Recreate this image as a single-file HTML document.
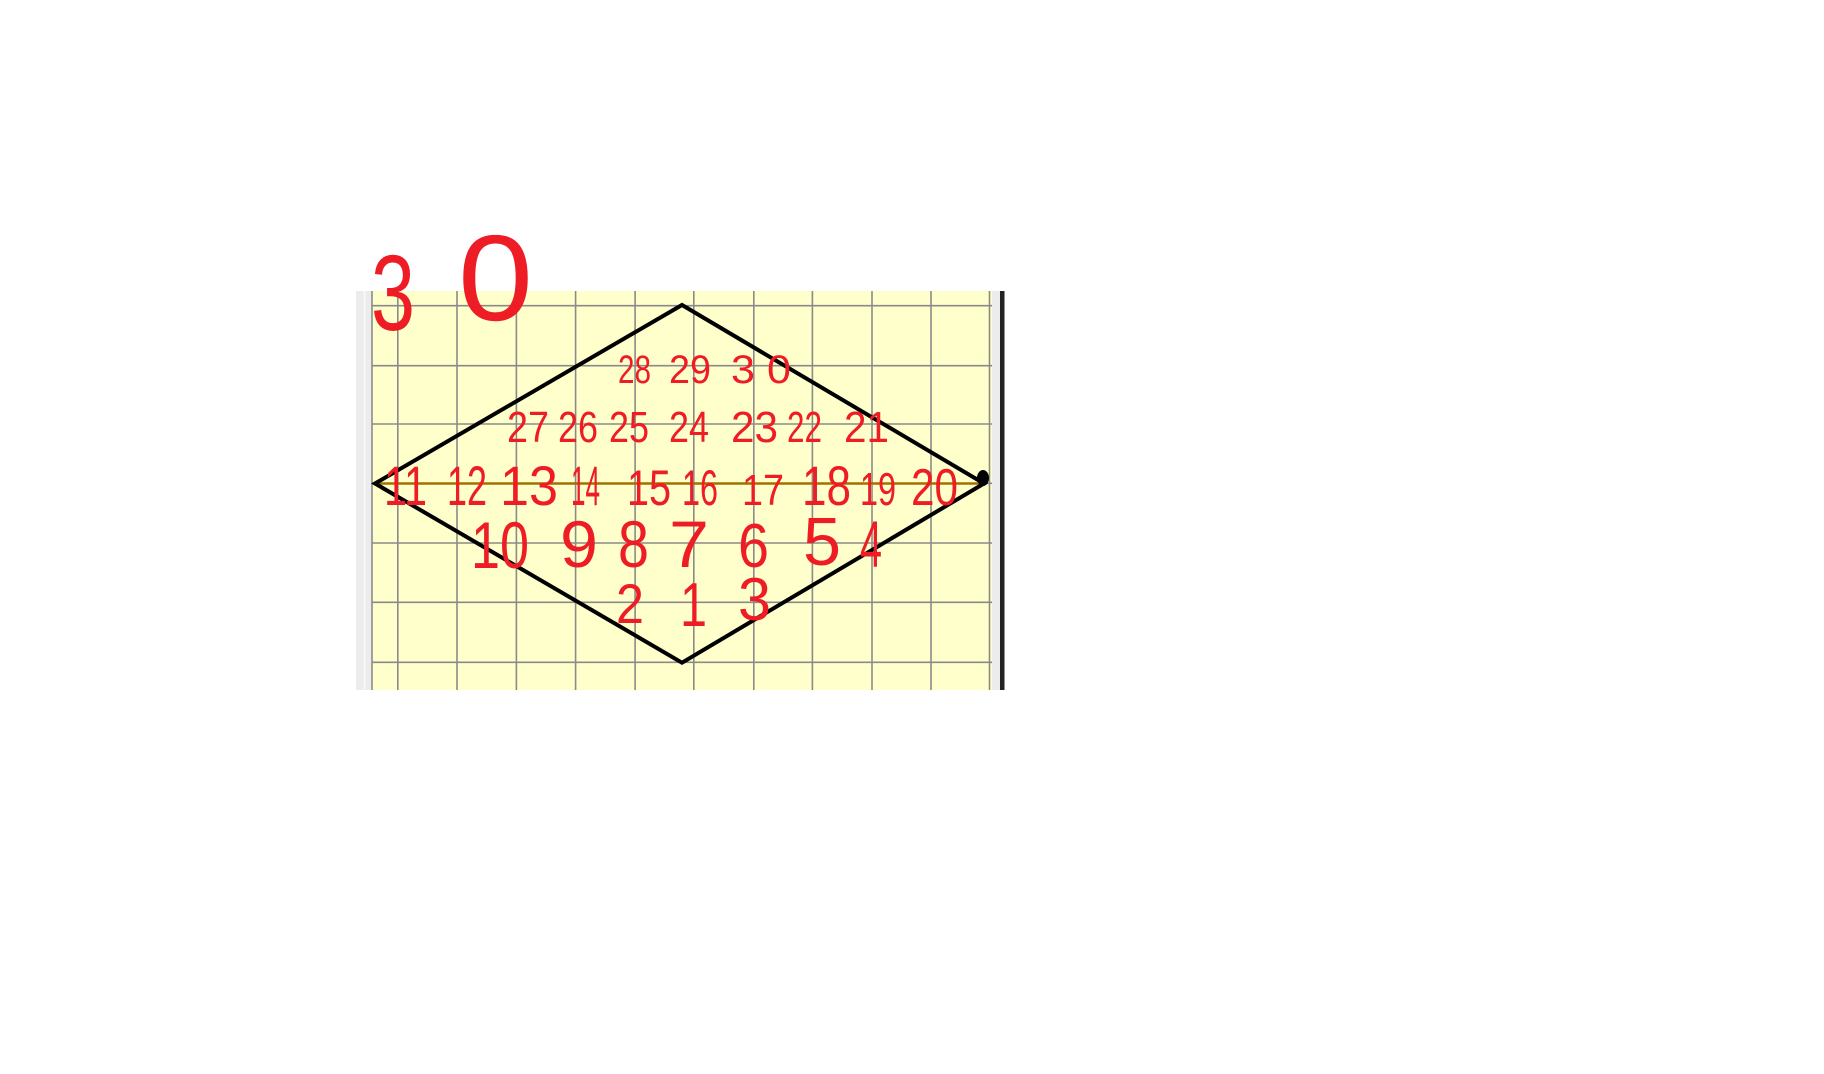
<!DOCTYPE html>
<html><head><meta charset="utf-8"><style>
html,body{margin:0;padding:0;background:#fff;width:1824px;height:1074px;overflow:hidden}
svg{display:block}
text{font-family:"Liberation Sans",sans-serif;fill:#ee1c25}
</style></head><body>
<svg width="1824" height="1074" viewBox="0 0 1824 1074">
<rect x="356" y="291" width="16" height="399" fill="#ececec"/>
<line x1="364.5" y1="291" x2="364.5" y2="690" stroke="#fafafa" stroke-width="1.5"/>
<rect x="372" y="291" width="620" height="399" fill="#ffffcc"/>
<g id="grid" stroke="#8a8a8a" stroke-width="1.6"></g>
<rect x="992" y="291" width="8" height="399" fill="#ececec"/>
<rect x="1000" y="291" width="4.5" height="399" fill="#222"/>
<line x1="375" y1="483.5" x2="984" y2="483.5" stroke="#a07000" stroke-width="2.5"/>
<polygon points="375,483.5 682,305 984,483.5 682,662.7" fill="none" stroke="#000" stroke-width="4" stroke-linejoin="miter"/>
<ellipse cx="983" cy="478" rx="6" ry="8" fill="#000"/>
<g id="labels">
<text x="371" y="330" font-size="108" textLength="44" lengthAdjust="spacingAndGlyphs">3</text>
<text x="458" y="320" font-size="122" textLength="75" lengthAdjust="spacingAndGlyphs">0</text>

<text x="618" y="383" font-size="40" textLength="33" lengthAdjust="spacingAndGlyphs">28</text>
<text x="669" y="383" font-size="40" textLength="42" lengthAdjust="spacingAndGlyphs">29</text>
<text x="731" y="383" font-size="40" textLength="60" lengthAdjust="spacingAndGlyphs">3 0</text>

<text x="507" y="442" font-size="44" textLength="42" lengthAdjust="spacingAndGlyphs">27</text>
<text x="558" y="442" font-size="44" textLength="40" lengthAdjust="spacingAndGlyphs">26</text>
<text x="609" y="442" font-size="44" textLength="40" lengthAdjust="spacingAndGlyphs">25</text>
<text x="669" y="442" font-size="44" textLength="40" lengthAdjust="spacingAndGlyphs">24</text>
<text x="731" y="442" font-size="44" textLength="47" lengthAdjust="spacingAndGlyphs">23</text>
<text x="787" y="442" font-size="44" textLength="35" lengthAdjust="spacingAndGlyphs">22</text>
<text x="844" y="442" font-size="44" textLength="45" lengthAdjust="spacingAndGlyphs">21</text>

<text x="384" y="505" font-size="56" textLength="43" lengthAdjust="spacingAndGlyphs">11</text>
<text x="447" y="505" font-size="56" textLength="40" lengthAdjust="spacingAndGlyphs">12</text>
<text x="500" y="505" font-size="56" textLength="58" lengthAdjust="spacingAndGlyphs">13</text>
<text x="571" y="505" font-size="56" textLength="29" lengthAdjust="spacingAndGlyphs">14</text>
<text x="627" y="505" font-size="50" textLength="44" lengthAdjust="spacingAndGlyphs">15</text>
<text x="682" y="505" font-size="50" textLength="36" lengthAdjust="spacingAndGlyphs">16</text>
<text x="742" y="505" font-size="44" textLength="42" lengthAdjust="spacingAndGlyphs">17</text>
<text x="802" y="505" font-size="56" textLength="49" lengthAdjust="spacingAndGlyphs">18</text>
<text x="860" y="505" font-size="46" textLength="36" lengthAdjust="spacingAndGlyphs">19</text>
<text x="911" y="505" font-size="52" textLength="47" lengthAdjust="spacingAndGlyphs">20</text>

<text x="471" y="568" font-size="66" textLength="58" lengthAdjust="spacingAndGlyphs">10</text>
<text x="560" y="567" font-size="66" textLength="38" lengthAdjust="spacingAndGlyphs">9</text>
<text x="618" y="567" font-size="66" textLength="31" lengthAdjust="spacingAndGlyphs">8</text>
<text x="669" y="567" font-size="66" textLength="40" lengthAdjust="spacingAndGlyphs">7</text>
<text x="738" y="567" font-size="62" textLength="31" lengthAdjust="spacingAndGlyphs">6</text>
<text x="803" y="565" font-size="68" textLength="38" lengthAdjust="spacingAndGlyphs">5</text>
<text x="860" y="567" font-size="66" textLength="22" lengthAdjust="spacingAndGlyphs">4</text>

<text x="616" y="623" font-size="56" textLength="28" lengthAdjust="spacingAndGlyphs">2</text>
<text x="680" y="626" font-size="62" textLength="27" lengthAdjust="spacingAndGlyphs">1</text>
<text x="738" y="620" font-size="60" textLength="33" lengthAdjust="spacingAndGlyphs">3</text>
</g>
</svg>
<script>
const gridXs=[372,397.8,457,516.4,575.6,635.1,693.8,753.8,812.4,872,931,989.5];
const gridYs=[305.7,365.7,424,483.3,543,602.3,662.3];
const g=document.getElementById('grid');
const NS='http://www.w3.org/2000/svg';
gridXs.forEach(x=>{const l=document.createElementNS(NS,'line');
l.setAttribute('x1',x);l.setAttribute('x2',x);l.setAttribute('y1',291);l.setAttribute('y2',690);


g.appendChild(l);});
gridYs.forEach(y=>{const l=document.createElementNS(NS,'line');
l.setAttribute('x1',372);l.setAttribute('x2',992);l.setAttribute('y1',y);l.setAttribute('y2',y);


g.appendChild(l);});
</script>
</body></html>
